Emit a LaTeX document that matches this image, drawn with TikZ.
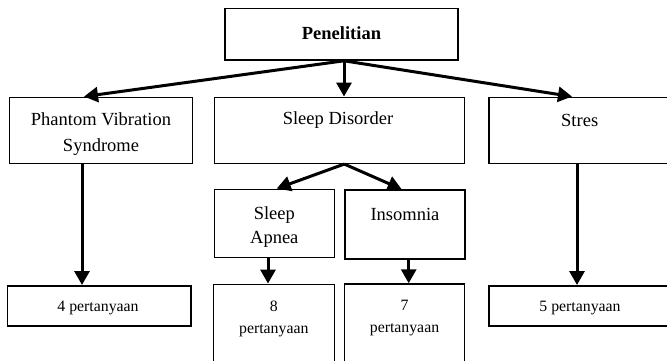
\documentclass[tikz,border=0pt]{standalone}
\usepackage{fontspec}
\setmainfont{Liberation Serif}
\usetikzlibrary{arrows.meta,calc}
\begin{document}
\begin{tikzpicture}[x=1pt,y=-1pt,
  box/.style={draw=black,line width=1.5pt,fill=white,inner sep=0pt},
  lbl/.style={inner sep=0pt,align=center,font=\fontsize{18.5}{26}\selectfont},
  small/.style={font=\fontsize{15.8}{22}\selectfont},
  conn/.style={line width=3pt,-{Triangle[length=14pt,width=15pt]}}]
\useasboundingbox (0,0) rectangle (667,360);
\clip (0,0) rectangle (667,360);
\fill[white] (0,0) rectangle (667,360);
% boxes
\node[box,minimum width=233pt,minimum height=51.7pt] (pen) at (341.5,34.2) {};
\node[box,minimum width=183.4pt,minimum height=66pt] (pvs) at (101,130.3) {};
\node[box,minimum width=250.4pt,minimum height=66pt] (sd) at (339.5,130.3) {};
\node[box,minimum width=181pt,minimum height=66pt] (st) at (579.6,130.3) {};
\node[box,minimum width=120pt,minimum height=68.4pt] (sa) at (274.3,223.5) {};
\node[box,minimum width=120pt,minimum height=69pt] (ins) at (405,224.5) {};
\node[box,minimum width=183.7pt,minimum height=40.3pt] (q4) at (99.2,305.9) {};
\node[box,minimum width=121pt,minimum height=86pt] (q8) at (273.8,327.3) {};
\node[box,minimum width=120.4pt,minimum height=86pt] (q7) at (404.5,327) {};
\node[box,minimum width=181.3pt,minimum height=40.3pt] (q5) at (579.4,305.9) {};
% texts
\node[lbl,font=\fontsize{18.5}{26}\selectfont\bfseries] (pent) at (341.5,33) {Penelitian};
\node[lbl] (pvst) at (101,134.3) {Phantom Vibration\\Syndrome};
\node[lbl] (sdt) at (338,120.5) {Sleep Disorder};
\node[lbl] (stt) at (579.7,120.5) {Stres};
\node[lbl,font=\fontsize{18.5}{24}\selectfont] (sat) at (274.3,227) {Sleep\\Apnea};
\node[lbl] (inst) at (405,214) {Insomnia};
\node[lbl,small] (q4t) at (98,308) {4 pertanyaan};
\node[lbl,small] (q5t) at (580,308) {5 pertanyaan};
\node[lbl,small] (q8t) at (273.8,318.5) {8\\pertanyaan};
\node[lbl,small] (q7t) at (404.5,318.5) {7\\pertanyaan};
% connectors
\draw[conn] ($(pen.south)+(2.5,0)$) -- ($(pvs.north)+(-17,0)$);
\draw[conn] ($(pen.south)+(2.5,0)$) -- ($(sd.north)+(4.5,0)$);
\draw[conn] ($(pen.south)+(2.5,0)$) -- ($(st.north)+(-7.6,0)$);
\draw[conn] ($(pvs.south)+(-19,0)$) coordinate (a1) -- (a1 |- q4.north);
\draw[conn] ($(st.south)+(-2.6,0)$) coordinate (a2) -- (a2 |- q5.north);
\draw[conn] ($(sd.south)+(4.8,0)$) -- ($(sa.north)+(2.4,0)$);
\draw[conn] ($(sd.south)+(4.8,0)$) -- ($(ins.north)+(-3.3,0)$);
\draw[conn] ($(sa.south)+(-6.3,0)$) coordinate (a3) -- (a3 |- q8.north);
\draw[conn] ($(ins.south)+(3.7,0)$) coordinate (a4) -- (a4 |- q7.north);
\end{tikzpicture}
\end{document}
